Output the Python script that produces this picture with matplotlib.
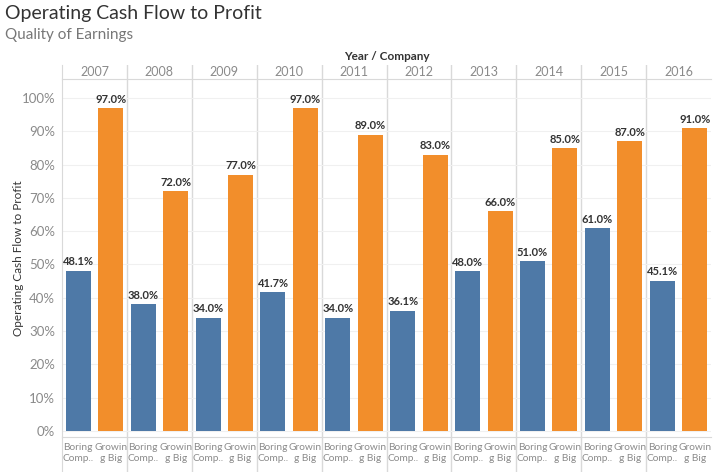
import numpy as np
import matplotlib.pyplot as plt

# Data
years = ['2007', '2008', '2009', '2010', '2011', '2012', '2013', '2014', '2015', '2016']
companies = ['Boring\nComp..', 'Growin\ng Big']
boring = [48.1, 38.0, 34.0, 41.7, 34.0, 36.1, 48.0, 51.0, 61.0, 45.1]
growing = [97.0, 72.0, 77.0, 97.0, 89.0, 83.0, 66.0, 85.0, 87.0, 91.0]
y_ticks = [0, 10, 20, 30, 40, 50, 60, 70, 80, 90, 100]

blue = '#4e79a7'
orange = '#f28e2b'
sep_col = '#d9d9d9'
text_grey = '#8a8a8a'

plt.rcParams['font.family'] = ['Lato', 'DejaVu Sans']

W, H = 720, 472
fig = plt.figure(figsize=(W / 100, H / 100), dpi=100)

left, right = 62, 711
head_top, head_bot = 65, 79
plot_bot = 437
foot_bot = 472


def box(top, bottom):
    return [left / W, 1 - bottom / H, (right - left) / W, (bottom - top) / H]


n = len(years)
xb = np.arange(n) * 2
xg = xb + 1
xlim = (-0.5, 2 * n - 0.5)
seps = np.arange(1, n) * 2 - 0.5

# main bars
ax = fig.add_axes(box(head_bot, plot_bot))
ax.bar(xb, boring, width=0.77, color=blue, zorder=3)
ax.bar(xg, growing, width=0.77, color=orange, zorder=3)
for x, v in zip(xb, boring):
    ax.text(x, v + 1.0, f'{v:.1f}%', ha='center', va='bottom', fontsize=8,
            fontweight='bold', color='#333333', zorder=4)
for x, v in zip(xg, growing):
    ax.text(x, v + 1.0, f'{v:.1f}%', ha='center', va='bottom', fontsize=8,
            fontweight='bold', color='#333333', zorder=4)
ax.set_xlim(*xlim)
ax.set_ylim(-1.8, 105.7)
ax.set_yticks(y_ticks)
ax.set_yticklabels([f'{t}%' for t in y_ticks], fontsize=9.5, color=text_grey)
ax.set_xticks([])
ax.tick_params(axis='y', length=0, pad=5)
ax.grid(axis='y', color='#f0f0f0', linewidth=0.8, zorder=0)
for s in seps:
    ax.axvline(s, color=sep_col, linewidth=1, zorder=1)
for side in ['top', 'right', 'bottom']:
    ax.spines[side].set_visible(False)
ax.spines['left'].set_color(sep_col)
ax.set_ylabel('Operating Cash Flow to Profit', fontsize=8.5, color='#333333')
ax.yaxis.set_label_coords(-0.058, 0.5)

# header with years
hax = fig.add_axes(box(head_top, head_bot))
hax.set_xlim(*xlim)
hax.set_ylim(0, 1)
hax.set_xticks([])
hax.set_yticks([])
for s in seps:
    hax.axvline(s, color=sep_col, linewidth=1)
for i, yr in enumerate(years):
    hax.text(2 * i + 0.5, 0.5, yr, ha='center', va='center', fontsize=9, color=text_grey)
for side in ['top', 'right']:
    hax.spines[side].set_visible(False)
hax.spines['bottom'].set_color(sep_col)
hax.spines['left'].set_color(sep_col)
hax.patch.set_alpha(0)

# footer with company labels
fax = fig.add_axes(box(plot_bot, foot_bot))
fax.set_xlim(*xlim)
fax.set_ylim(0, 1)
fax.set_xticks([])
fax.set_yticks([])
for s in seps:
    fax.axvline(s, color=sep_col, linewidth=1)
for i in range(n):
    fax.text(xb[i], 0.84, companies[0], ha='center', va='top', fontsize=7.3,
             color=text_grey, linespacing=1.35)
    fax.text(xg[i], 0.84, companies[1], ha='center', va='top', fontsize=7.3,
             color=text_grey, linespacing=1.35)
for side in ['bottom', 'right']:
    fax.spines[side].set_visible(False)
fax.spines['top'].set_color(sep_col)
fax.spines['left'].set_color(sep_col)
fax.patch.set_alpha(0)

fig.text((left + right) / 2 / W, 1 - 57 / H, 'Year / Company', ha='center', va='center',
         fontsize=8.5, fontweight='bold', color='#333333')
fig.text(5 / W, 1 - 13 / H, 'Operating Cash Flow to Profit', ha='left', va='center',
         fontsize=14, color='#333333')
fig.text(5 / W, 1 - 35 / H, 'Quality of Earnings', ha='left', va='center',
         fontsize=11, color='#777777')

fig.savefig('out.png', dpi=100)
